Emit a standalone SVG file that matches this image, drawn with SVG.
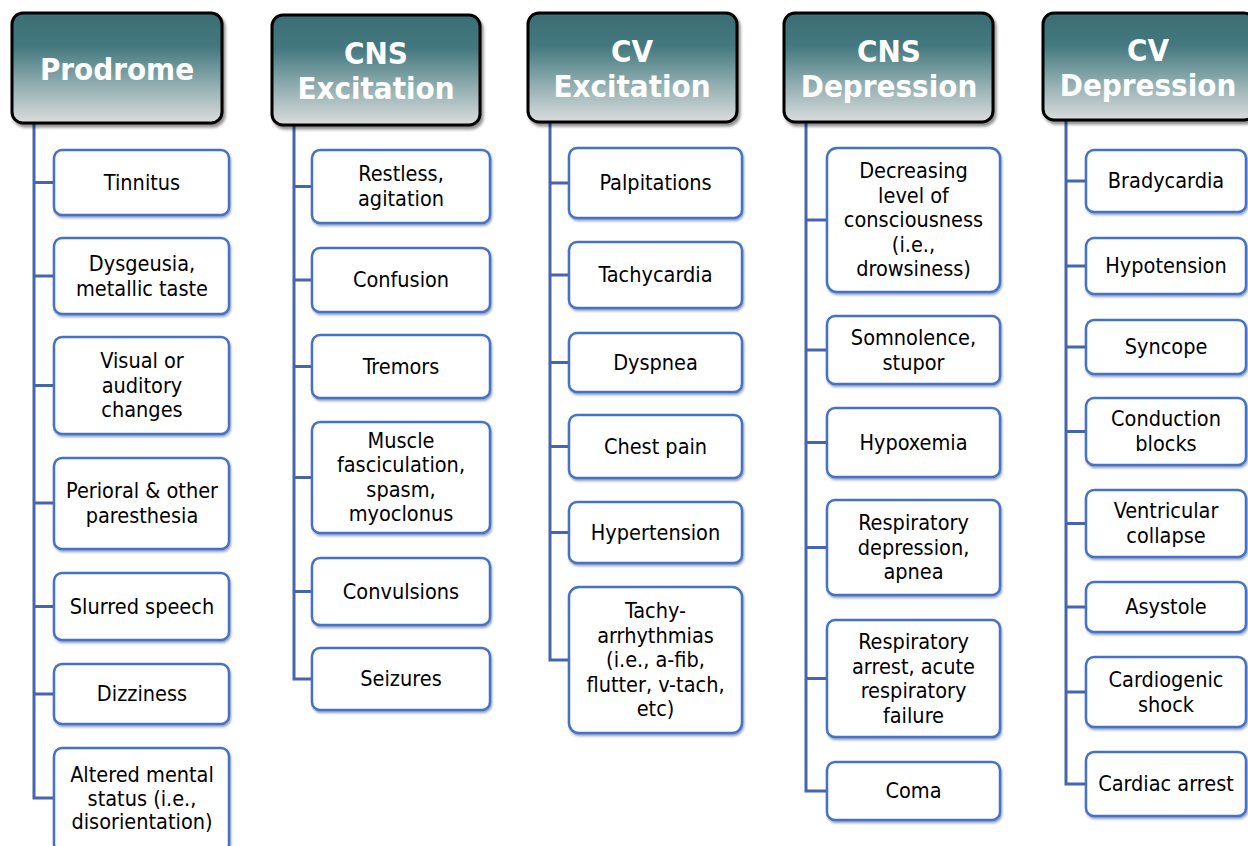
<svg xmlns="http://www.w3.org/2000/svg" width="1248" height="846" viewBox="0 0 1248 846">
<style>
.hdr{stroke:#000;stroke-width:3;fill:url(#hg);filter:url(#hs)}
.ht{font-family:'DejaVu Sans Condensed','DejaVu Sans',sans-serif;font-stretch:condensed;font-weight:bold;font-size:31px;fill:#fff;text-anchor:middle}
.bx{fill:#fff;stroke:#4472c4;stroke-width:2.5;filter:url(#bs)}
.bt{font-family:'DejaVu Sans Condensed','DejaVu Sans',sans-serif;font-stretch:condensed;font-size:21.5px;fill:#000;text-anchor:middle}
.ln{stroke:#4665ad;stroke-width:3;fill:none}
</style>
<defs>
<linearGradient id="hg" x1="0" y1="0" x2="0" y2="1">
<stop offset="0" stop-color="#3b6e75"/>
<stop offset="0.3" stop-color="#43787e"/>
<stop offset="0.65" stop-color="#8fadb0"/>
<stop offset="1" stop-color="#dcdcdc"/>
</linearGradient>
<filter id="hs" x="-10%" y="-10%" width="130%" height="130%"><feDropShadow dx="2" dy="3" stdDeviation="1.5" flood-color="#000" flood-opacity="0.45"/></filter>
<filter id="bs" x="-10%" y="-10%" width="130%" height="130%"><feDropShadow dx="1" dy="2" stdDeviation="0.8" flood-color="#2f4f8f" flood-opacity="0.5"/></filter>
</defs>
<rect width="1248" height="846" fill="#fff"/>
<g id="connectors">
<path class="ln" d="M34 123V798H54M34 182.5H54M34 276H54M34 385.5H54M34 503H54M34 606.5H54M34 694H54"/>
<path class="ln" d="M294 125V679H312M294 186.5H312M294 280H312M294 366.5H312M294 477.5H312M294 591.5H312"/>
<path class="ln" d="M550 122V660H569M550 183H569M550 275H569M550 362.5H569M550 446.5H569M550 532.5H569"/>
<path class="ln" d="M806 122V791H827M806 220H827M806 350H827M806 442.5H827M806 547.5H827M806 678.5H827"/>
<path class="ln" d="M1066 120V784H1086M1066 181H1086M1066 266H1086M1066 347H1086M1066 431.5H1086M1066 523.5H1086M1066 607H1086M1066 692H1086"/>
</g>
<g id="h1"><rect class="hdr" x="12" y="13" width="210" height="110" rx="11"/><text class="ht" x="117" y="80">Prodrome</text></g>
<g id="h2"><rect class="hdr" x="272" y="15" width="208" height="110" rx="11"/><text class="ht" x="376" y="64">CNS<tspan x="376" dy="35">Excitation</tspan></text></g>
<g id="h3"><rect class="hdr" x="528" y="13" width="209" height="109" rx="11"/><text class="ht" x="632" y="62">CV<tspan x="632" dy="35">Excitation</tspan></text></g>
<g id="h4"><rect class="hdr" x="784" y="13" width="209" height="109" rx="11"/><text class="ht" x="889" y="62">CNS<tspan x="889" dy="35">Depression</tspan></text></g>
<g id="h5"><rect class="hdr" x="1043" y="13" width="212" height="107" rx="11"/><text class="ht" x="1148" y="61">CV<tspan x="1148" dy="35">Depression</tspan></text></g>

<g id="c1a"><rect class="bx" x="54" y="150" width="175" height="65" rx="8"/><text class="bt" x="142" y="189.5">Tinnitus</text></g>
<g id="c1b"><rect class="bx" x="54" y="238" width="175" height="76" rx="8"/><text class="bt" x="142" y="271">Dysgeusia,<tspan x="142" dy="24.5">metallic taste</tspan></text></g>
<g id="c1c"><rect class="bx" x="54" y="337" width="175" height="97" rx="8"/><text class="bt" x="142" y="368">Visual or<tspan x="142" dy="24.5">auditory</tspan><tspan x="142" dy="24.5">changes</tspan></text></g>
<g id="c1d"><rect class="bx" x="54" y="458" width="175" height="91" rx="8"/><text class="bt" x="142" y="498">Perioral &amp; other<tspan x="142" dy="24.5">paresthesia</tspan></text></g>
<g id="c1e"><rect class="bx" x="54" y="573" width="175" height="67" rx="8"/><text class="bt" x="142" y="613.5">Slurred speech</text></g>
<g id="c1f"><rect class="bx" x="54" y="664" width="175" height="60" rx="8"/><text class="bt" x="142" y="701">Dizziness</text></g>
<g id="c1g"><rect class="bx" x="54" y="748" width="175" height="104" rx="8"/><text class="bt" x="142" y="782">Altered mental<tspan x="142" dy="23.5">status (i.e.,</tspan><tspan x="142" dy="23.5">disorientation)</tspan></text></g>

<g id="c2a"><rect class="bx" x="312" y="150" width="178" height="73" rx="8"/><text class="bt" x="401" y="181">Restless,<tspan x="401" dy="24.5">agitation</tspan></text></g>
<g id="c2b"><rect class="bx" x="312" y="248" width="178" height="64" rx="8"/><text class="bt" x="401" y="287">Confusion</text></g>
<g id="c2c"><rect class="bx" x="312" y="335" width="178" height="63" rx="8"/><text class="bt" x="401" y="373.5">Tremors</text></g>
<g id="c2d"><rect class="bx" x="312" y="422" width="178" height="111" rx="8"/><text class="bt" x="401" y="447.5">Muscle<tspan x="401" dy="24.5">fasciculation,</tspan><tspan x="401" dy="24.5">spasm,</tspan><tspan x="401" dy="24.5">myoclonus</tspan></text></g>
<g id="c2e"><rect class="bx" x="312" y="558" width="178" height="67" rx="8"/><text class="bt" x="401" y="598.5">Convulsions</text></g>
<g id="c2f"><rect class="bx" x="312" y="648" width="178" height="62" rx="8"/><text class="bt" x="401" y="686">Seizures</text></g>

<g id="c3a"><rect class="bx" x="569" y="148" width="173" height="70" rx="8"/><text class="bt" x="655.5" y="190">Palpitations</text></g>
<g id="c3b"><rect class="bx" x="569" y="242" width="173" height="66" rx="8"/><text class="bt" x="655.5" y="282">Tachycardia</text></g>
<g id="c3c"><rect class="bx" x="569" y="333" width="173" height="59" rx="8"/><text class="bt" x="655.5" y="369.5">Dyspnea</text></g>
<g id="c3d"><rect class="bx" x="569" y="415" width="173" height="63" rx="8"/><text class="bt" x="655.5" y="453.5">Chest pain</text></g>
<g id="c3e"><rect class="bx" x="569" y="502" width="173" height="61" rx="8"/><text class="bt" x="655.5" y="539.5">Hypertension</text></g>
<g id="c3f"><rect class="bx" x="569" y="587" width="173" height="146" rx="10"/><text class="bt" x="655.5" y="618">Tachy-<tspan x="655.5" dy="24.5">arrhythmias</tspan><tspan x="655.5" dy="24.5">(i.e., a-fib,</tspan><tspan x="655.5" dy="24.5">flutter, v-tach,</tspan><tspan x="655.5" dy="24.5">etc)</tspan></text></g>

<g id="c4a"><rect class="bx" x="827" y="148" width="173" height="144" rx="10"/><text class="bt" x="913.5" y="178">Decreasing<tspan x="913.5" dy="24.5">level of</tspan><tspan x="913.5" dy="24.5">consciousness</tspan><tspan x="913.5" dy="24.5">(i.e.,</tspan><tspan x="913.5" dy="24.5">drowsiness)</tspan></text></g>
<g id="c4b"><rect class="bx" x="827" y="316" width="173" height="68" rx="8"/><text class="bt" x="913.5" y="345">Somnolence,<tspan x="913.5" dy="24.5">stupor</tspan></text></g>
<g id="c4c"><rect class="bx" x="827" y="408" width="173" height="69" rx="8"/><text class="bt" x="913.5" y="449.5">Hypoxemia</text></g>
<g id="c4d"><rect class="bx" x="827" y="500" width="173" height="95" rx="8"/><text class="bt" x="913.5" y="530">Respiratory<tspan x="913.5" dy="24.5">depression,</tspan><tspan x="913.5" dy="24.5">apnea</tspan></text></g>
<g id="c4e"><rect class="bx" x="827" y="620" width="173" height="117" rx="8"/><text class="bt" x="913.5" y="649">Respiratory<tspan x="913.5" dy="24.5">arrest, acute</tspan><tspan x="913.5" dy="24.5">respiratory</tspan><tspan x="913.5" dy="24.5">failure</tspan></text></g>
<g id="c4f"><rect class="bx" x="827" y="762" width="173" height="58" rx="8"/><text class="bt" x="913.5" y="798">Coma</text></g>

<g id="c5a"><rect class="bx" x="1086" y="150" width="160" height="62" rx="8"/><text class="bt" x="1166" y="188">Bradycardia</text></g>
<g id="c5b"><rect class="bx" x="1086" y="238" width="160" height="56" rx="8"/><text class="bt" x="1166" y="273">Hypotension</text></g>
<g id="c5c"><rect class="bx" x="1086" y="320" width="160" height="54" rx="8"/><text class="bt" x="1166" y="354">Syncope</text></g>
<g id="c5d"><rect class="bx" x="1086" y="398" width="160" height="67" rx="8"/><text class="bt" x="1166" y="426">Conduction<tspan x="1166" dy="24.5">blocks</tspan></text></g>
<g id="c5e"><rect class="bx" x="1086" y="490" width="160" height="67" rx="8"/><text class="bt" x="1166" y="518">Ventricular<tspan x="1166" dy="24.5">collapse</tspan></text></g>
<g id="c5f"><rect class="bx" x="1086" y="582" width="160" height="50" rx="8"/><text class="bt" x="1166" y="614">Asystole</text></g>
<g id="c5g"><rect class="bx" x="1086" y="657" width="160" height="70" rx="8"/><text class="bt" x="1166" y="687">Cardiogenic<tspan x="1166" dy="24.5">shock</tspan></text></g>
<g id="c5h"><rect class="bx" x="1086" y="752" width="160" height="64" rx="8"/><text class="bt" x="1166" y="791">Cardiac arrest</text></g>
</svg>
